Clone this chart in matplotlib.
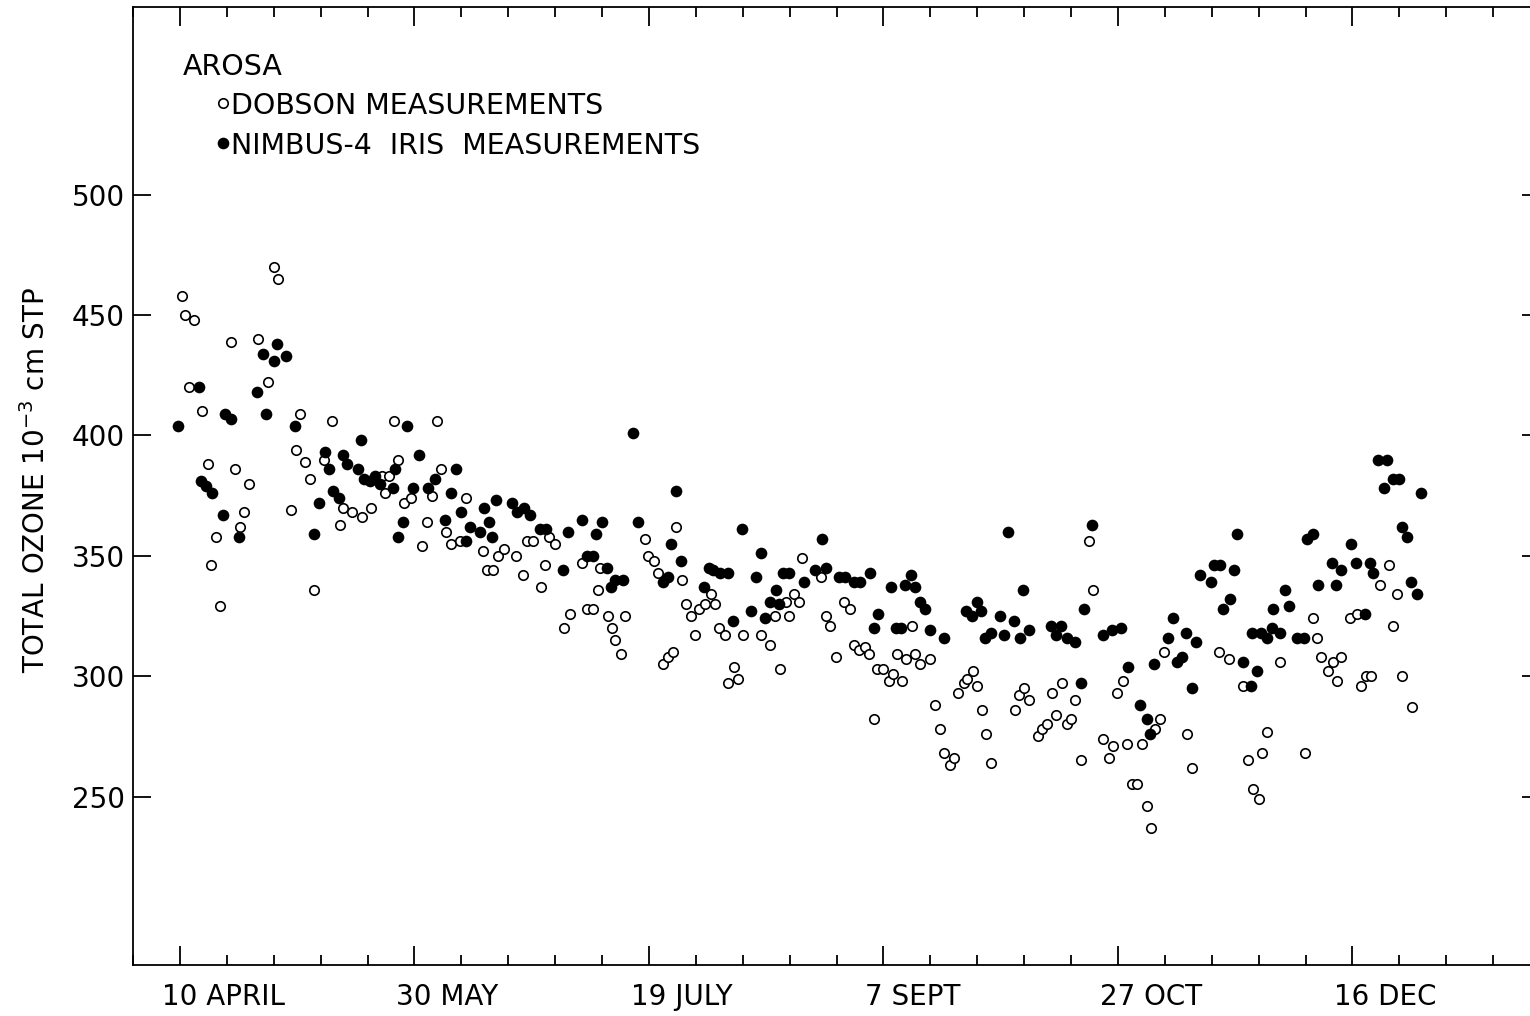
import matplotlib
matplotlib.use("Agg")
import matplotlib.pyplot as plt
import matplotlib.transforms as mtransforms
from matplotlib.ticker import MultipleLocator, FixedLocator

# x: days after 10 April, y: total ozone (10^-3 cm STP)
dobson_day = [
    0.4, 1.0, 2.0, 2.9, 4.8, 5.9, 6.6, 7.8, 8.5, 11.0, 11.7, 12.8, 13.7, 14.7,
    16.6, 18.7, 20.0, 20.9, 23.7, 24.7, 25.7, 26.7, 27.7, 28.6, 30.7, 32.4,
    34.1, 34.8, 36.6, 38.8, 40.7, 43.1, 43.8, 44.6, 45.7, 46.5, 47.8, 49.3,
    51.6, 52.7, 53.8, 54.9, 55.7, 56.7, 57.8, 59.7, 61.0, 64.7, 65.5, 66.8,
    67.9, 69.1, 71.6, 73.1, 74.0, 75.2, 77.0, 77.9, 78.8, 80.0, 81.9, 83.1,
    85.7, 86.7, 88.1, 89.1, 89.6, 91.2, 92.1, 92.8, 94.0, 94.8, 99.1, 99.9,
    101.0, 102.0, 102.9, 104.1, 105.2, 105.8, 107.1, 108.0, 108.9, 109.9,
    110.7, 112.0, 113.2, 114.1, 115.0, 116.3, 116.9, 118.1, 119.0, 120.0,
    123.8, 125.9, 126.8, 127.9, 129.3, 129.9, 130.9, 132.0, 132.7, 136.6,
    137.7, 138.6, 139.9, 141.5, 142.9, 143.7, 144.8, 146.1, 146.9, 148.0,
    148.7, 150.0, 151.1, 152.0, 153.0, 154.0, 154.9, 156.0, 156.8, 157.9,
    159.9, 160.9, 162.0, 163.0, 164.1, 165.1, 166.0, 167.1, 167.9, 169.0,
    170.0, 171.0, 171.9, 172.9, 178.0, 179.0, 180.0, 181.1, 183.0, 183.9,
    184.9, 186.0, 186.9, 188.0, 189.1, 190.1, 190.9, 192.1, 193.8, 194.7,
    196.8, 198.0, 199.0, 199.9, 201.0, 201.9, 202.9, 204.0, 205.1, 206.1,
    207.1, 208.0, 208.9, 209.9, 214.8, 215.7, 221.6, 223.7, 226.7, 227.8,
    228.8, 230.1, 230.8, 231.8, 234.5, 239.8, 241.5, 242.4, 243.4, 244.7,
    245.8, 246.7, 247.6, 249.5, 250.9, 251.8, 252.8, 253.9, 255.9, 257.8,
    258.6, 259.6, 260.6, 262.7,
]
dobson_ozone = [
    458, 450, 420, 448, 410, 388, 346, 358, 329, 439, 386, 362, 368, 380,
    440, 422, 470, 465, 369, 394, 409, 389, 382, 336, 390, 406,
    363, 370, 368, 366, 370, 383, 376, 383, 406, 390, 372, 374,
    354, 364, 375, 406, 386, 360, 355, 356, 374, 352, 344, 344,
    350, 353, 350, 342, 356, 356, 337, 346, 358, 355, 320, 326,
    347, 328, 328, 336, 345, 325, 320, 315, 309, 325, 357, 350,
    348, 343, 305, 308, 310, 362, 340, 330, 325, 317,
    328, 330, 334, 330, 320, 317, 297, 304, 299, 317,
    317, 313, 325, 303, 331, 325, 334, 331, 349, 341,
    325, 321, 308, 331, 328, 313, 311, 312, 309, 282,
    303, 303, 298, 301, 309, 298, 307, 321, 309, 305,
    307, 288, 278, 268, 263, 266, 293, 297, 299, 302,
    296, 286, 276, 264, 286, 292, 295, 290, 275, 278,
    280, 293, 284, 297, 280, 282, 290, 265, 356, 336,
    274, 266, 271, 293, 298, 272, 255, 255, 272, 246,
    237, 278, 282, 310, 276, 262, 310, 307, 296, 265,
    253, 249, 268, 277, 306, 268, 324, 316, 308, 302,
    306, 298, 308, 324, 326, 296, 300, 300, 338, 346,
    321, 334, 300, 287,
]

iris_day = [
    -0.3, 4.1, 4.6, 5.5, 6.8, 9.1, 9.6, 10.9, 12.6, 16.5, 17.8, 18.4, 20.0,
    20.8, 22.7, 24.6, 28.6, 29.6, 31.0, 31.8, 32.6, 34.0, 34.8, 35.7, 38.0,
    38.7, 39.3, 40.5, 41.6, 42.7, 45.4, 45.8, 46.6, 47.6, 48.4, 49.7, 51.0,
    52.9, 54.4, 56.5, 57.8, 58.8, 59.9, 61.0, 61.8, 64.0, 64.9, 65.9, 66.6,
    67.5, 70.9, 71.8, 73.3, 74.6, 76.8, 78.0, 81.6, 82.8, 85.7, 86.7, 88.1,
    88.8, 90.0, 91.0, 91.9, 92.8, 94.4, 96.7, 97.7, 102.9, 104.1, 104.8,
    105.8, 106.8, 111.8, 112.8, 113.7, 115.1, 116.8, 117.9, 119.8, 121.7,
    122.8, 123.9, 124.7, 125.9, 127.0, 127.7, 128.5, 129.9, 133.0, 135.4,
    136.9, 137.7, 140.6, 141.8, 143.8, 145.1, 147.1, 148.0, 148.8, 151.7,
    152.7, 153.7, 154.6, 155.9, 156.8, 157.8, 158.9, 159.9, 162.9, 167.7,
    168.9, 169.9, 170.9, 171.6, 172.9, 174.8, 175.8, 176.6, 177.9, 179.1,
    179.8, 181.0, 185.7, 186.9, 187.8, 189.1, 190.9, 192.1, 192.7, 194.5,
    196.9, 198.7, 200.6, 202.1, 204.8, 206.1, 206.8, 207.7, 210.7, 211.8,
    212.7, 213.6, 214.6, 215.9, 216.6, 217.5, 219.8, 220.5, 221.7, 222.5,
    223.8, 224.7, 225.4, 226.6, 228.3, 228.5, 229.6, 230.6, 231.7, 232.8,
    233.1, 234.5, 235.7, 236.5, 238.2, 239.7, 240.4, 241.5, 242.6, 245.7,
    246.5, 247.6, 249.6, 250.7, 252.7, 253.8, 254.4, 255.5, 256.7, 257.4,
    258.6, 260.0, 260.5, 261.7, 262.5, 263.8, 264.6,
]
iris_ozone = [
    404, 420, 381, 379, 376, 367, 409, 407, 358, 418, 434, 409, 431,
    438, 433, 404, 359, 372, 393, 386, 377, 374, 392, 388, 386,
    398, 382, 381, 383, 380, 378, 386, 358, 364, 404, 378, 392,
    378, 382, 365, 376, 386, 368, 356, 362, 360, 370, 364, 358,
    373, 372, 368, 370, 367, 361, 361, 344, 360, 365, 350, 350,
    359, 364, 345, 337, 340, 340, 401, 364, 339, 341, 355,
    377, 348, 337, 345, 344, 343, 343, 323, 361, 327,
    341, 351, 324, 331, 336, 330, 343, 343, 339, 344,
    357, 345, 341, 341, 339, 339, 343, 320, 326, 337,
    320, 320, 338, 342, 337, 331, 328, 319, 316, 327,
    325, 331, 327, 316, 318, 325, 317, 360, 323, 316,
    336, 319, 321, 317, 321, 316, 314, 297, 328, 363,
    317, 319, 320, 304, 288, 282, 276, 305, 316, 324,
    306, 308, 318, 295, 314, 342, 339, 346, 346, 328,
    332, 344, 359, 306, 296, 318, 302, 318, 316, 320,
    328, 318, 336, 329, 316, 316, 357, 359, 338, 347,
    338, 344, 355, 347, 326, 347, 343, 390, 378, 390,
    382, 382, 362, 358, 339, 334, 376,
]

tick_days = [0, 50, 100, 150, 200, 250]
tick_labels = ["10 APRIL", "30 MAY", "19 JULY", "7 SEPT", "27 OCT", "16 DEC"]
y_ticks = [250, 300, 350, 400, 450, 500]

plt.rcParams["font.family"] = "DejaVu Sans"
plt.rcParams["mathtext.default"] = "regular"

fig = plt.figure(figsize=(15.3, 10.16), dpi=100)
W, H = 1530, 1016
ax = fig.add_axes([133 / W, (H - 965) / H, (1540 - 133) / W, (965 - 7) / H])

ax.plot(dobson_day, dobson_ozone, "o", ms=6.8, mfc="white", mec="black",
        mew=1.2, ls="none", zorder=2)
ax.plot(iris_day, iris_ozone, "o", ms=8.4, mfc="black", mec="black",
        mew=0, ls="none", zorder=3)

ax.set_xlim(-10, 290)
ax.set_ylim(180, 578)

ax.xaxis.set_major_locator(FixedLocator(tick_days))
ax.xaxis.set_minor_locator(MultipleLocator(10))
ax.set_xticks(tick_days, tick_labels)
ax.yaxis.set_major_locator(FixedLocator(y_ticks))

ax.tick_params(axis="x", which="major", direction="in", length=14, width=1.3,
               top=True, bottom=True, labelsize=20, pad=13)
ax.tick_params(axis="x", which="minor", direction="in", length=7.5, width=1.3,
               top=True, bottom=True)
ax.tick_params(axis="y", which="major", direction="in", length=13, width=1.3,
               left=True, right=True, labelsize=20, pad=6)

# labels start a little left of their tick in the original
offset = mtransforms.ScaledTranslation(-18 / 100, 0, fig.dpi_scale_trans)
for lab in ax.get_xticklabels():
    lab.set_horizontalalignment("left")
    lab.set_transform(lab.get_transform() + offset)

for sp in ax.spines.values():
    sp.set_linewidth(1.3)

fig.text(36 / W, 1 - 480 / H, "TOTAL OZONE 10$^{-3}$ cm STP", rotation=90,
         ha="center", va="center", fontsize=20)


# legend block, placed in pixel terms of the axes
def ax_frac(px, py):
    return (px - 133) / (1540 - 133), (965 - py) / (965 - 7)


ax.text(*ax_frac(183, 75), "AROSA", transform=ax.transAxes, fontsize=20.5,
        va="baseline", ha="left")
ax.plot(*ax_frac(223, 103), "o", ms=6.8, mfc="white", mec="black", mew=1.2,
        transform=ax.transAxes, clip_on=False)
ax.text(*ax_frac(231, 114), "DOBSON MEASUREMENTS", transform=ax.transAxes,
        fontsize=20.5, va="baseline", ha="left")
ax.plot(*ax_frac(223, 143), "o", ms=8.4, mfc="black", mec="black", mew=0,
        transform=ax.transAxes, clip_on=False)
ax.text(*ax_frac(231, 154), "NIMBUS-4  IRIS  MEASUREMENTS", transform=ax.transAxes,
        fontsize=20.5, va="baseline", ha="left")

fig.savefig("out.png", dpi=100)
